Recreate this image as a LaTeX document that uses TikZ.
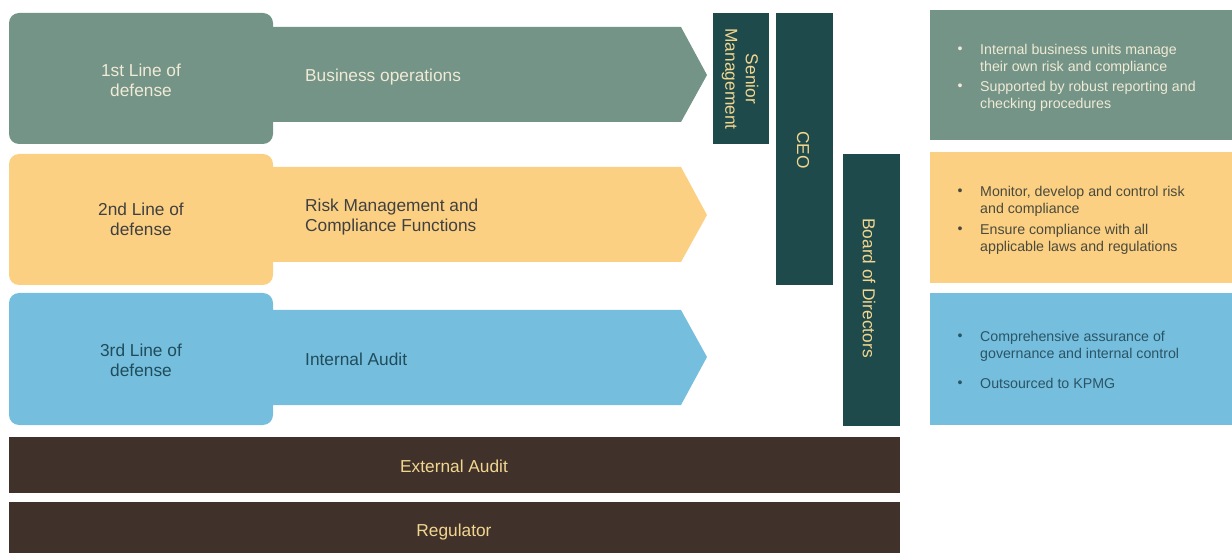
\documentclass[tikz,border=0pt]{standalone}
\usepackage{fontspec}
\setmainfont{Liberation Sans}

\definecolor{sage}{HTML}{739486}
\definecolor{sand}{HTML}{FCD083}
\definecolor{sky}{HTML}{76BEDD}
\definecolor{pine}{HTML}{1E4A4B}
\definecolor{umber}{HTML}{40322A}
\definecolor{cream}{HTML}{F0EAD6}
\definecolor{straw}{HTML}{F2D690}
\definecolor{graphite}{HTML}{404040}
\definecolor{deepteal}{HTML}{1F4D5C}
\definecolor{olivegray}{HTML}{4A4A3C}
\definecolor{slateblue}{HTML}{2A5566}

% first-line struts: fix the distance from a node's top to its first baseline
\newcommand\bigstrut{\rule{0pt}{13pt}}
\newcommand\notestrut{\rule{0pt}{11pt}}

\begin{document}
\begin{tikzpicture}[x=1pt,y=-1pt,
  tab/.style={rounded corners=10pt},
  big/.style={font=\fontsize{17.3}{20.5}\selectfont, inner sep=0pt, align=center},
  bigleft/.style={big, align=left, anchor=north west},
  vert/.style={big, rotate=-90},
  note/.style={font=\fontsize{14.2}{17}\selectfont, inner sep=0pt, align=left, anchor=north west},
  dot/.style={font=\fontsize{14.2}{17}\selectfont, inner sep=0pt, anchor=base}]
\useasboundingbox (0,0) rectangle (1232,553);

% --- three lines of defense: arrow bodies first, rounded tabs on top
\fill[sage] (273,27) -- (681,27) -- (707,75) -- (681,122) -- (273,122) -- cycle;
\fill[sand] (273,167) -- (681,167) -- (707,215) -- (681,262) -- (273,262) -- cycle;
\fill[sky]  (273,310) -- (681,310) -- (707,357) -- (681,405) -- (273,405) -- cycle;
\fill[sage, tab] (9,13)  rectangle (273,144);
\fill[sand, tab] (9,154) rectangle (273,285);
\fill[sky, tab]  (9,293) rectangle (273,425);

\node[big, anchor=north, text=cream]    (line1) at (141,63)  {\bigstrut 1st Line of\\defense};
\node[big, anchor=north, text=graphite] (line2) at (141,202) {\bigstrut 2nd Line of\\defense};
\node[big, anchor=north, text=deepteal] (line3) at (141,343) {\bigstrut 3rd Line of\\defense};

\node[bigleft, text=cream]    (ops)  at (305,68)  {\bigstrut Business operations};
\node[bigleft, text=graphite] (risk) at (305,198) {\bigstrut Risk Management and\\Compliance Functions};
\node[bigleft, text=deepteal] (ia)   at (305,352) {\bigstrut Internal Audit};

% --- governance columns
\fill[pine] (713,13)  rectangle (769,144);
\fill[pine] (776,13)  rectangle (833,285);
\fill[pine] (843,154) rectangle (900,426);
\node[vert, text=straw] (senior) at (740,79)  {Senior\\Management};
\node[vert, text=straw] (ceo)    at (803,150) {CEO};
\node[vert, text=straw] (board)  at (869,288) {Board of Directors};

% --- external bars
\fill[umber] (9,437) rectangle (900,493);
\fill[umber] (9,502) rectangle (900,553);
\node[big, text=straw] (ext) at (454,466) {External Audit};
\node[big, text=straw] (reg) at (454,532) {Regulator};

% --- description panels
\fill[sage] (930,10)  rectangle (1232,140);
\fill[sand] (930,152) rectangle (1232,283);
\fill[sky]  (930,293) rectangle (1232,425);

\node[dot, text=cream] (b11) at (960,54) {•};
\node[note, text=cream] (t11) at (980,43) {\notestrut Internal business units manage\\their own risk and compliance};
\node[dot, text=cream] (b12) at (960,91) {•};
\node[note, text=cream] (t12) at (980,80) {\notestrut Supported by robust reporting and\\checking procedures};

\node[dot, text=olivegray] (b21) at (960,196) {•};
\node[note, text=olivegray] (t21) at (980,185) {\notestrut Monitor, develop and control risk\\and compliance};
\node[dot, text=olivegray] (b22) at (960,234) {•};
\node[note, text=olivegray] (t22) at (980,223) {\notestrut Ensure compliance with all\\applicable laws and regulations};

\node[dot, text=slateblue] (b31) at (960,341) {•};
\node[note, text=slateblue] (t31) at (980,330) {\notestrut Comprehensive assurance of\\governance and internal control};
\node[dot, text=slateblue] (b32) at (960,388) {•};
\node[note, text=slateblue] (t32) at (980,377) {\notestrut Outsourced to KPMG};
\end{tikzpicture}
\end{document}
